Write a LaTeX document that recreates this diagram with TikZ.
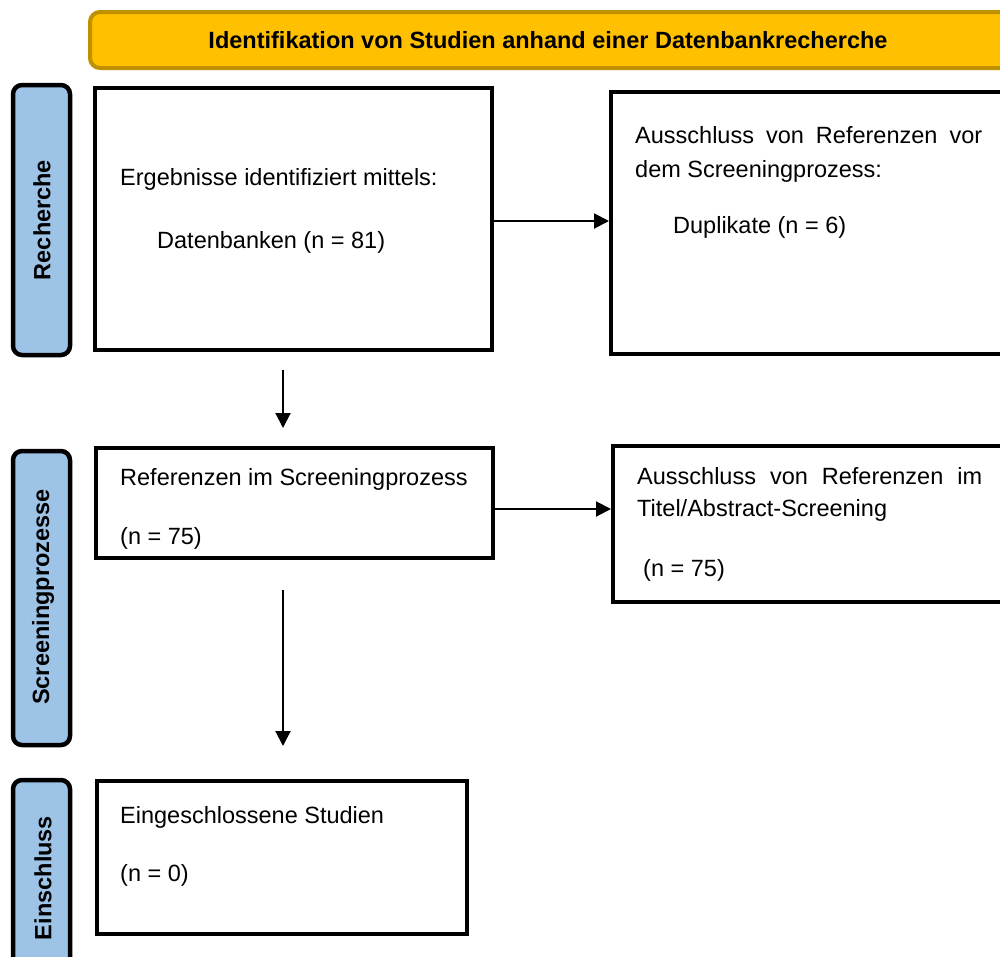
\documentclass[tikz,border=0pt]{standalone}
\usepackage{fontspec}
\setmainfont{Liberation Sans}
\usetikzlibrary{arrows.meta,calc}
\definecolor{headfill}{HTML}{FFC000}
\definecolor{headline}{HTML}{BF9000}
\definecolor{phasefill}{HTML}{9DC3E6}
\tikzset{
  phase/.style={draw=black, line width=4.5pt, rounded corners=9pt, fill=phasefill,
    outer sep=0pt, inner sep=0pt, anchor=north west},
  stepbox/.style={draw=black, line width=4pt, outer sep=0pt, inner sep=0pt,
    anchor=north west},
  flow/.style={line width=2pt, -{Triangle[length=15pt,width=15pt]}},
  txt/.style={anchor=base west, inner sep=0pt, font=\fontsize{23.5}{28}\selectfont},
  phasetxt/.style={rotate=90, inner sep=0pt, font=\fontsize{23.5}{28}\selectfont\bfseries},
}
\begin{document}
\begin{tikzpicture}[x=1pt,y=-1pt]
\useasboundingbox (0,0) rectangle (1000,956);
\clip (0,0) rectangle (1000,956);

% header bar
\node[draw=headline, fill=headfill, line width=4pt, rounded corners=10pt,
  outer sep=0pt, inner sep=0pt, anchor=north west,
  minimum width=940pt, minimum height=56pt] (head) at (90,12) {};
\node[inner sep=0pt, font=\fontsize{23.5}{28}\selectfont\bfseries] (headtxt) at (548,40)
  {Identifikation von Studien anhand einer Datenbankrecherche};

% phase labels on the left
\node[phase, minimum width=57pt, minimum height=270pt] (pRech) at (13,85) {};
\node[phasetxt] (pRechTxt) at (42,220) {Recherche};
\node[phase, minimum width=57pt, minimum height=294pt] (pScr) at (13,451) {};
\node[phasetxt] (pScrTxt) at (43,597) {Screeningprozesse};
\node[phase, minimum width=57pt, minimum height=200pt] (pEin) at (13,780) {};
\node[phasetxt] (pEinTxt) at (43,878) {Einschluss};

% identification
\node[stepbox, minimum width=397pt, minimum height=262pt] (erg) at (95,88) {};
\node[txt] (ergA) at (120,185) {Ergebnisse identifiziert mittels:};
\node[txt] (ergB) at (157,248) {Datenbanken (n = 81)};

\node[stepbox, minimum width=420pt, minimum height=262pt] (dup) at (611,92) {};
\node[txt] (dupA) at (635,143) {\makebox[347pt][s]{Ausschluss von Referenzen vor}};
\node[txt] (dupB) at (635,177) {dem Screeningprozess:};
\node[txt] (dupC) at (673,233) {Duplikate (n = 6)};

% screening
\node[stepbox, minimum width=397pt, minimum height=110pt] (scr) at (96,448) {};
\node[txt] (scrA) at (120,485) {Referenzen im Screeningprozess};
\node[txt] (scrB) at (120,544) {(n = 75)};

\node[stepbox, minimum width=420pt, minimum height=156pt] (excl) at (613,446) {};
\node[txt] (exclA) at (637,484) {\makebox[345pt][s]{Ausschluss von Referenzen im}};
\node[txt] (exclB) at (637,516) {Titel/Abstract-Screening};
\node[txt] (exclC) at (643,576) {(n = 75)};

% inclusion
\node[stepbox, minimum width=370pt, minimum height=153pt] (inc) at (97,781) {};
\node[txt] (incA) at (120,823) {Eingeschlossene Studien};
\node[txt] (incB) at (120,881) {(n = 0)};

% connectors
\draw[flow, shorten >=2pt] ([yshift=-2pt]erg.east) -- ([yshift=-2pt]erg.east -| dup.west);
\draw[flow, shorten >=2pt] ([yshift=-6pt]scr.east) -- ([yshift=-6pt]scr.east -| excl.west);
\coordinate (d1s) at (283,370);
\coordinate (d1e) at (283,428);
\draw[flow] (d1s) -- (d1e);
\coordinate (d2s) at (283,590);
\coordinate (d2e) at (283,746);
\draw[flow] (d2s) -- (d2e);
\end{tikzpicture}
\end{document}
